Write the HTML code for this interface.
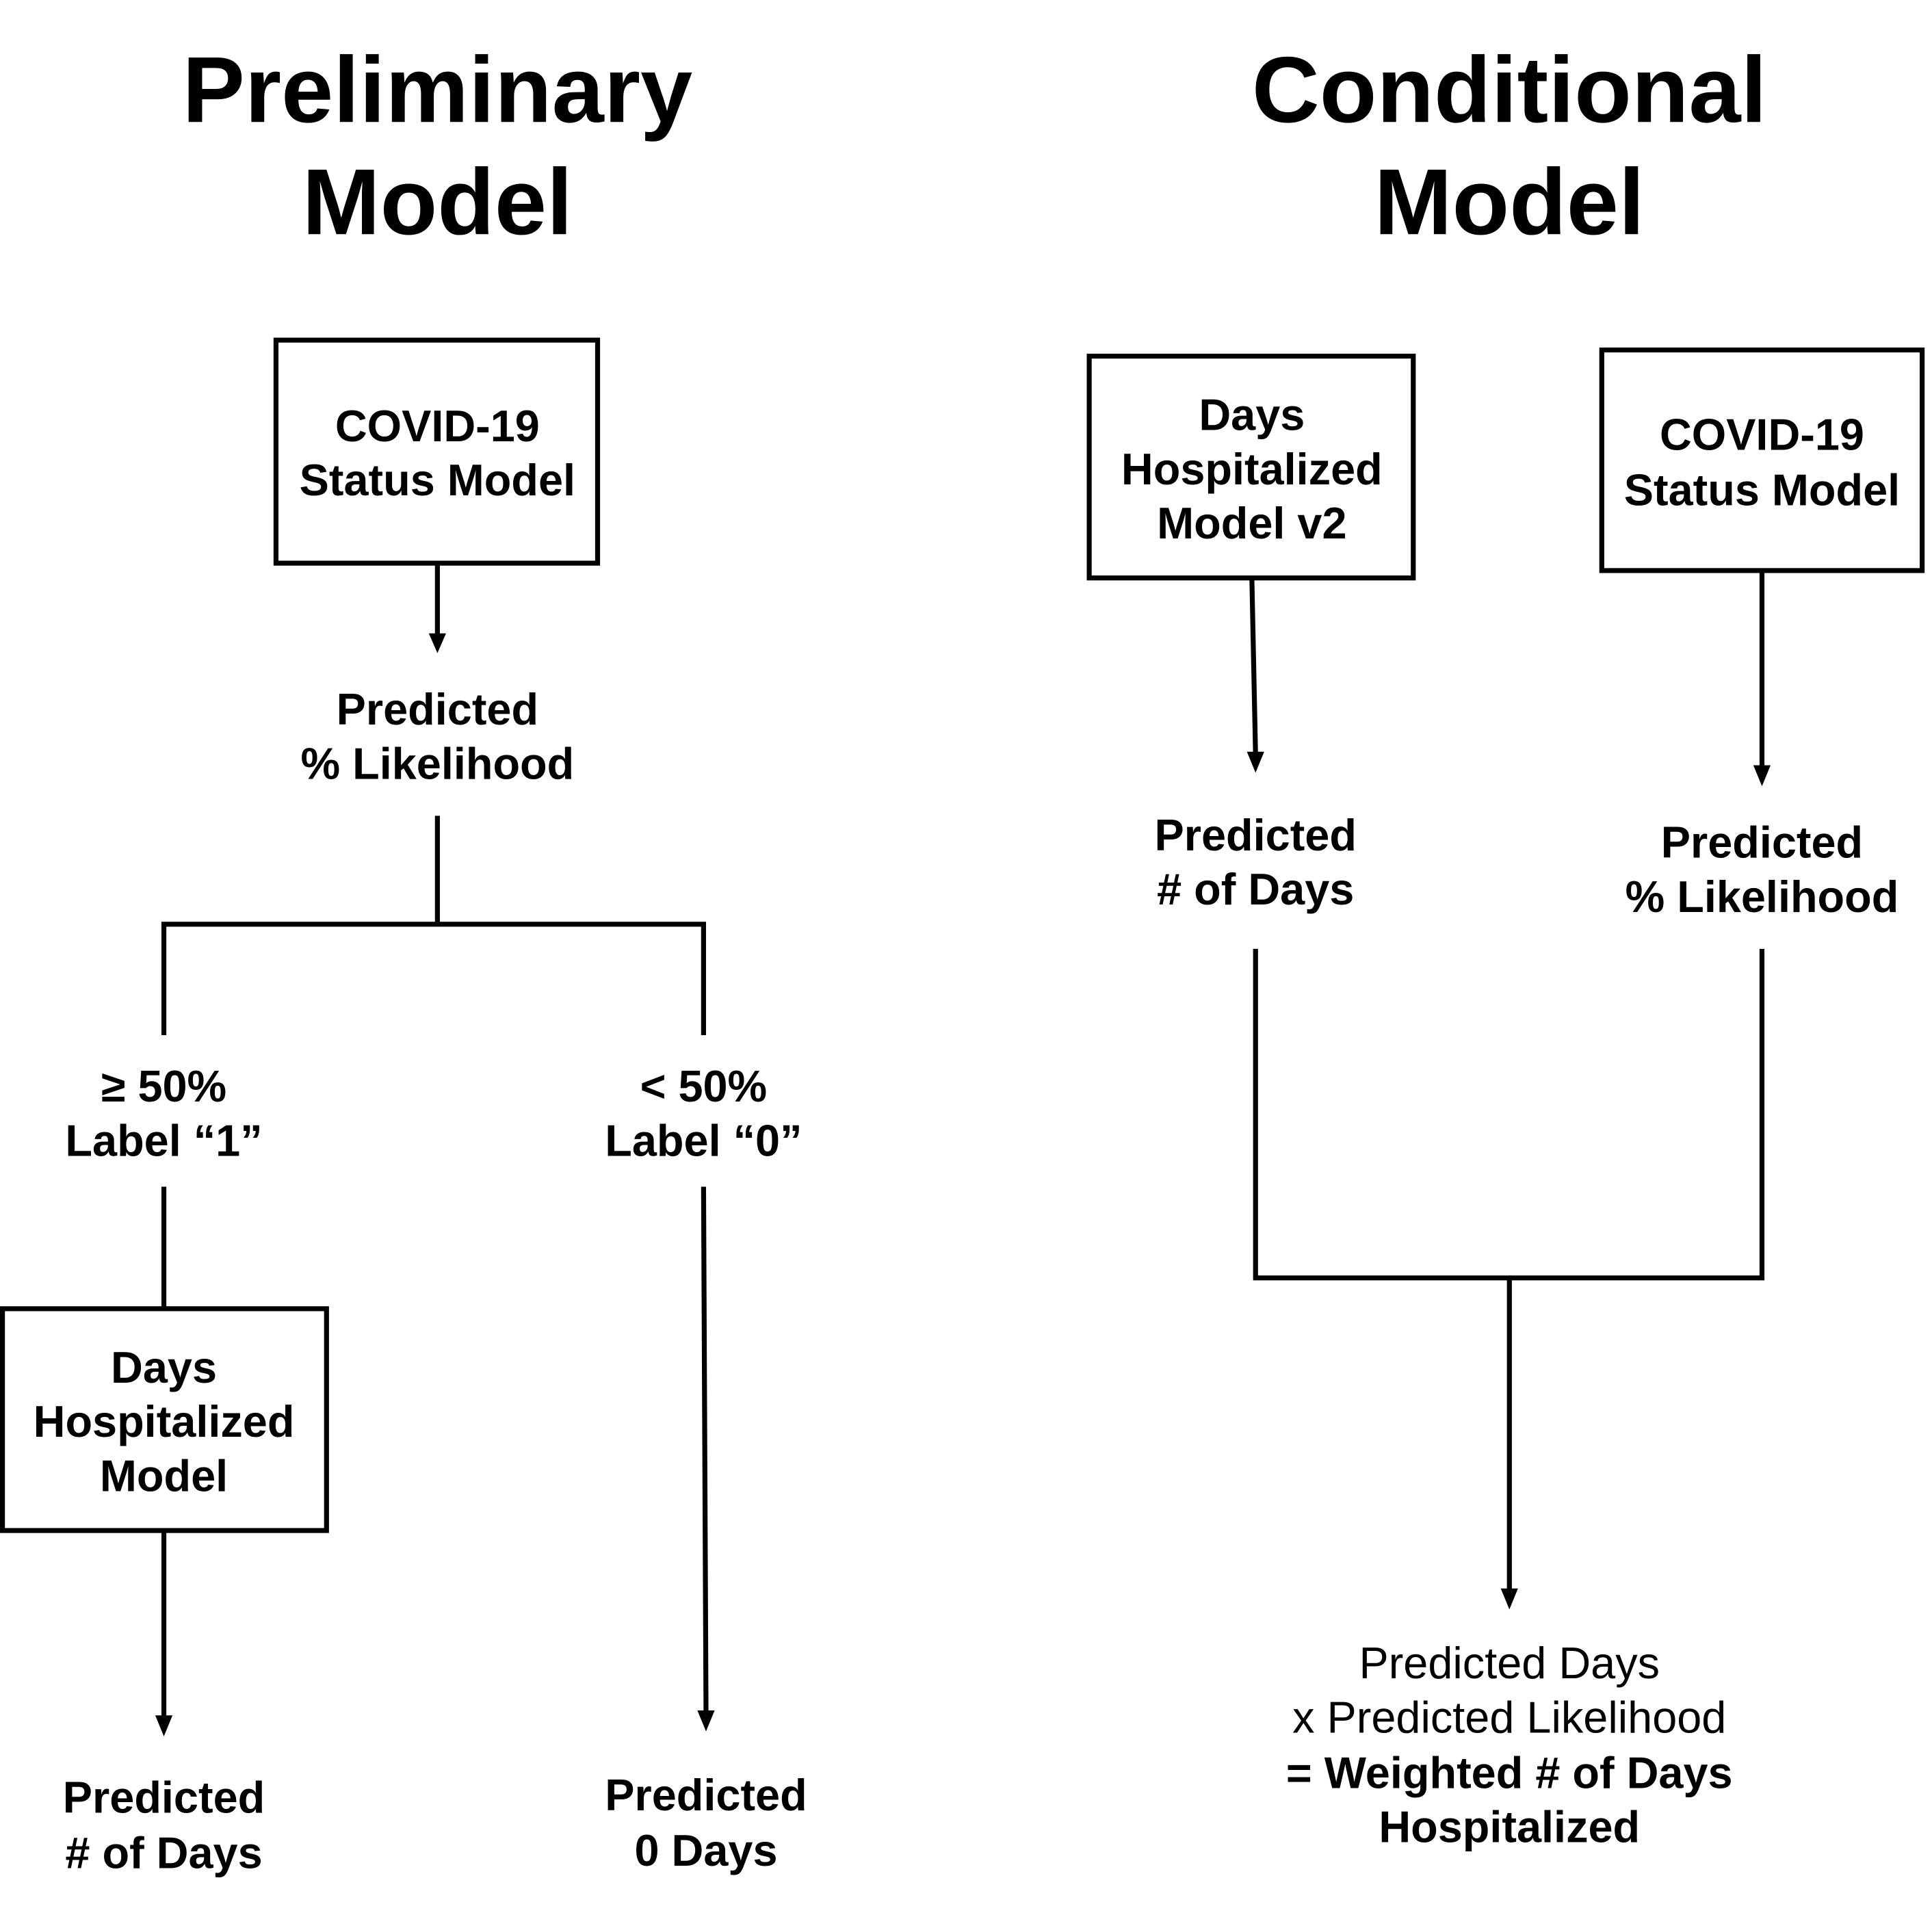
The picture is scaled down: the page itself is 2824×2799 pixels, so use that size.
<!DOCTYPE html>
<html><head><meta charset="utf-8"><style>
html,body{margin:0;padding:0;background:#fff;}
svg{display:block;}
text{font-family:"Liberation Sans",Arial,sans-serif;text-anchor:middle;fill:#000;}
.t{font-size:76px;font-weight:bold;}
.b{font-size:36px;font-weight:bold;}
.n{font-size:36px;}
</style></head><body>
<svg width="2824" height="2799" viewBox="0 0 1568 1554" preserveAspectRatio="none" xmlns="http://www.w3.org/2000/svg">
<defs><marker id="a" markerWidth="4" markerHeight="4" refX="2" refY="4" orient="auto" markerUnits="userSpaceOnUse" viewBox="0 0 4 4"></marker></defs>
<g stroke="#000" stroke-width="4" fill="none">
<rect x="224" y="276" width="261" height="181"/>
<rect x="2" y="1062" width="263" height="180"/>
<rect x="884" y="289" width="263" height="180"/>
<rect x="1300" y="284" width="260" height="179"/>
<line x1="355" y1="457" x2="355" y2="516"/>
<polyline points="355,662 355,750"/>
<polyline points="133,840 133,750 571,750 571,840"/>
<line x1="133" y1="963" x2="133" y2="1062"/>
<line x1="133" y1="1242" x2="133" y2="1394"/>
<line x1="571" y1="963" x2="573" y2="1390"/>
<line x1="1016" y1="469" x2="1019" y2="612"/>
<line x1="1430" y1="463" x2="1430" y2="623"/>
<polyline points="1019,770 1019,1037 1430,1037 1430,770"/>
<line x1="1225" y1="1037" x2="1225" y2="1291"/>
</g>
<g fill="#000">
<polygon points="348,514 362,514 355,530"/>
<polygon points="126,1392 140,1392 133,1409"/>
<polygon points="566,1388 580,1388 573,1405"/>
<polygon points="1012,610 1026,610 1019,627"/>
<polygon points="1423,621 1437,621 1430,638"/>
<polygon points="1218,1289 1232,1289 1225,1306"/>
</g>
<text class="t" x="355" y="99">Preliminary</text>
<text class="t" x="355" y="190">Model</text>
<text class="t" x="1225" y="99">Conditional</text>
<text class="t" x="1225" y="190">Model</text>
<text class="b" x="355" y="358">COVID-19</text>
<text class="b" x="355" y="402">Status Model</text>
<text class="b" x="355" y="588">Predicted</text>
<text class="b" x="355" y="632">% Likelihood</text>
<text class="b" x="133" y="894">≥ 50%</text>
<text class="b" x="133" y="938">Label “1”</text>
<text class="b" x="571" y="894">&lt; 50%</text>
<text class="b" x="571" y="938">Label “0”</text>
<text class="b" x="133" y="1122">Days</text>
<text class="b" x="133" y="1166">Hospitalized</text>
<text class="b" x="133" y="1210">Model</text>
<text class="b" x="133" y="1471">Predicted</text>
<text class="b" x="133" y="1516">&#35; of Days</text>
<text class="b" x="573" y="1469">Predicted</text>
<text class="b" x="573" y="1514">0 Days</text>
<text class="b" x="1016" y="349">Days</text>
<text class="b" x="1016" y="393">Hospitalized</text>
<text class="b" x="1016" y="437">Model v2</text>
<text class="b" x="1430" y="365">COVID-19</text>
<text class="b" x="1430" y="410">Status Model</text>
<text class="b" x="1019" y="690">Predicted</text>
<text class="b" x="1019" y="734">&#35; of Days</text>
<text class="b" x="1430" y="696">Predicted</text>
<text class="b" x="1430" y="740">% Likelihood</text>
<text class="n" x="1225" y="1362">Predicted Days</text>
<text class="n" x="1225" y="1406">x Predicted Likelihood</text>
<text class="b" x="1225" y="1451">= Weighted &#35; of Days</text>
<text class="b" x="1225" y="1495">Hospitalized</text>
</svg>
</body></html>
